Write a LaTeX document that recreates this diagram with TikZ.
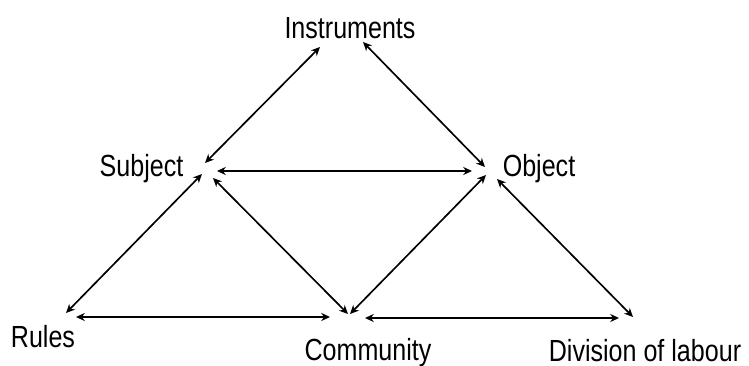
\documentclass[tikz,border=0pt]{standalone}
\usepackage{fontspec}
\setmainfont{Liberation Sans}[FakeStretch=0.82]
\usetikzlibrary{arrows.meta, calc}
\tikzset{
  vertex/.style={inner sep=0pt, anchor=base, font=\fontsize{17.4}{20}\selectfont},
  link/.style={Stealth-Stealth, line width=0.95pt, arrows={[length=5pt, width=4.6pt]}},
}

\begin{document}
\begin{tikzpicture}[x=0.02cm, y=0.02cm]
  \useasboundingbox (0,0) rectangle (749,365);

  \node[vertex] (instr) at (350,326) {Instruments};
  \node[vertex] (subj) at (141.5,188) {Subject};
  \node[vertex] (obj) at (539,188) {Object};
  \node[vertex] (rules) at (43,18) {Rules};
  \node[vertex] (comm) at (368,5) {Community};
  \node[vertex] (div) at (645,4) {Division of labour};

  % upper triangle
  \draw[link] ($(instr.base)+(-30,-8)$) -- ($(subj.base)+(63.5,14)$);
  \draw[link] ($(instr.base)+(13,-3)$) -- ($(obj.base)+(-54,10)$);
  \draw[link] ($(subj.base)+(75.5,6)$) -- ($(obj.base)+(-67,6)$);
  % lower triangles
  \draw[link] ($(subj.base)+(60.5,3)$) -- ($(rules.base)+(23,34)$);
  \draw[link] ($(subj.base)+(71.5,-1)$) -- ($(comm.base)+(-20,46)$);
  \draw[link] ($(obj.base)+(-53,2)$) -- ($(comm.base)+(-18,46)$);
  \draw[link] ($(obj.base)+(-42,-2)$) -- ($(div.base)+(-12,44)$);
  \draw[link] ($(rules.base)+(33,30)$) -- ($(comm.base)+(-38,43)$);
  \draw[link] ($(comm.base)+(-3,42)$) -- ($(div.base)+(-26,43)$);
\end{tikzpicture}
\end{document}
